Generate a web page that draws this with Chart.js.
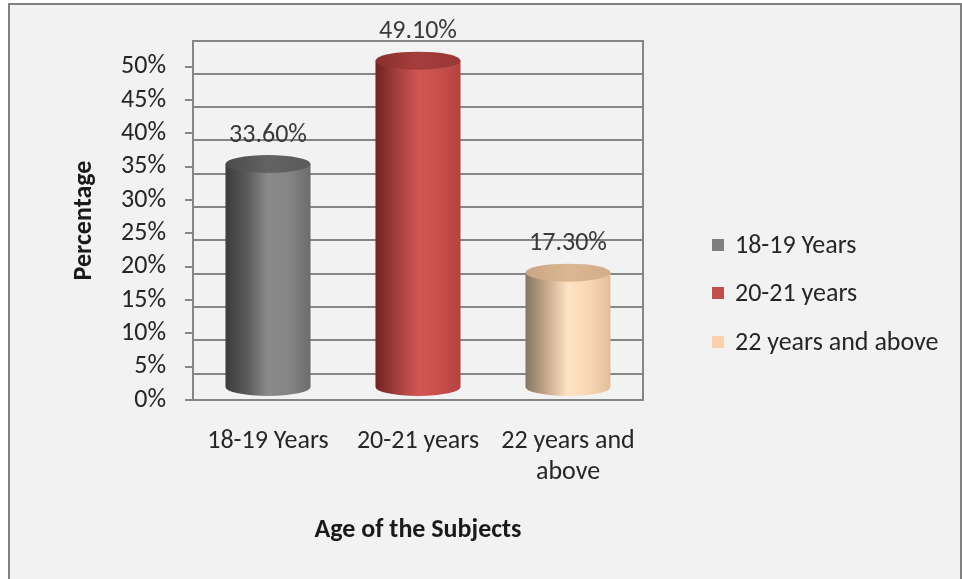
<!DOCTYPE html>
<html>
<head>
<meta charset="utf-8">
<title>Age of the Subjects</title>
<script src="https://cdn.jsdelivr.net/npm/chart.js@4.4.1/dist/chart.umd.min.js"></script>
<style>
    body { margin: 0; background: #fff; }
    .frame {
        position: absolute; left: 8px; top: 3px; width: 950px; height: 590px;
        border: 2px solid #808080; background: #f2f2f2;
    }
    #ageChart { position: absolute; left: 0; top: 0; }
</style>
</head>
<body>
<div class="frame"></div>
<canvas id="ageChart" width="962" height="579"></canvas>
<script>
const ageGroups = [['18-19 Years'], ['20-21 years'], ['22 years and', 'above']];
const legendNames = ['18-19 Years', '20-21 years', '22 years and above'];
const percentages = [33.6, 49.1, 17.3];
const yTicks = [0, 5, 10, 15, 20, 25, 30, 35, 40, 45, 50];

const FONT = 'Carlito, Calibri, Lato, sans-serif';
const LINE = '#868686';

// cylinder shading, left edge -> highlight -> right edge
const bodyShades = [
    ['#3c3c3c', '#5a5a5a', '#8a8a8a', '#858585', '#6c6c6c'],
    ['#6f2221', '#a23f3d', '#d15654', '#c94f4c', '#b24341'],
    ['#857563', '#c7aa8c', '#ffe3c5', '#f8d6b4', '#e2bd99']
];
const topShades = [
    ['#4a4a4a', '#636363', '#5a5a5a'],
    ['#8a2f2d', '#a53e3c', '#983836'],
    ['#c9a482', '#dcb794', '#d2ad8a']
];
const swatches = ['#7f7f7f', '#c0504d', '#f9d1ad'];

function hGradient(c, x0, x1, shades) {
    const g = c.createLinearGradient(x0, 0, x1, 0);
    shades.forEach((s, i) => g.addColorStop(i / (shades.length - 1), s));
    return g;
}

// back wall, gridlines, cylinders, value labels and legend
const cylinders = {
    id: 'cylinders',
    beforeDatasetsDraw(chart) {
        const { ctx, chartArea: a, scales: { y } } = chart;
        ctx.save();
        ctx.strokeStyle = LINE;
        ctx.lineWidth = 2;
        ctx.beginPath();
        yTicks.filter(v => v > 0).forEach(v => {
            const py = Math.round(y.getPixelForValue(v)) + 7;
            ctx.moveTo(a.left, py);
            ctx.lineTo(a.right, py);
        });
        ctx.moveTo(a.left, a.top);
        ctx.lineTo(a.right, a.top);
        ctx.lineTo(a.right, a.bottom);
        ctx.stroke();
        ctx.restore();
    },
    beforeDatasetDraw(chart, args) {
        const { ctx } = chart;
        const ry = 9, lift = 12;
        args.meta.data.forEach((el, i) => {
            const x0 = el.x - el.width / 2, x1 = el.x + el.width / 2, rx = el.width / 2;
            const top = el.y - lift, bot = el.base - lift;
            ctx.save();
            ctx.fillStyle = hGradient(ctx, x0, x1, bodyShades[i]);
            ctx.beginPath();
            ctx.moveTo(x0, top);
            ctx.lineTo(x0, bot);
            ctx.ellipse(el.x, bot, rx, ry, 0, Math.PI, 0, true);
            ctx.lineTo(x1, top);
            ctx.closePath();
            ctx.fill();
            ctx.fillStyle = hGradient(ctx, x0, x1, topShades[i]);
            ctx.beginPath();
            ctx.ellipse(el.x, top, rx, ry, 0, 0, Math.PI * 2);
            ctx.fill();
            ctx.restore();
        });
        return false;
    },
    afterDatasetsDraw(chart) {
        const { ctx, chartArea: a } = chart;
        const meta = chart.getDatasetMeta(0);
        ctx.save();
        ctx.font = '26px ' + FONT;
        ctx.fillStyle = '#3a3a3a';
        ctx.textAlign = 'center';
        ctx.textBaseline = 'middle';
        meta.data.forEach((el, i) => {
            ctx.fillText(percentages[i].toFixed(2) + '%', el.x, el.y - 41);
        });
        // legend
        ctx.textAlign = 'left';
        const rows = [204, 252, 301];
        legendNames.forEach((name, i) => {
            const cy = a.top + rows[i];
            ctx.fillStyle = swatches[i];
            ctx.fillRect(a.right + 69, cy - 6, 12, 12);
            ctx.fillStyle = '#262626';
            ctx.fillText(name, a.right + 92, cy + 1);
        });
        ctx.restore();
    }
};

new Chart(document.getElementById('ageChart'), {
    type: 'bar',
    data: {
        labels: ageGroups,
        datasets: [{
            label: 'Percentage',
            data: percentages,
            backgroundColor: swatches,
            barPercentage: 0.567,
            categoryPercentage: 1
        }]
    },
    plugins: [cylinders],
    options: {
        responsive: false,
        animation: false,
        layout: { padding: { top: 41, right: 319, bottom: 0, left: 0 } },
        plugins: {
            legend: { display: false },
            tooltip: { enabled: false }
        },
        scales: {
            x: {
                grid: { display: false, drawTicks: false },
                border: { display: true, color: LINE, width: 2 },
                ticks: { color: '#262626', padding: 26, font: { family: FONT, size: 26, lineHeight: 1.2 } },
                title: {
                    display: true,
                    text: 'Age of the Subjects',
                    color: '#1a1a1a',
                    font: { family: FONT, size: 26, weight: 'bold' },
                    padding: { top: 0, bottom: 33 }
                },
                afterFit(scale) { scale.height = 179; }
            },
            y: {
                min: 0,
                max: 53.85,
                ticks: {
                    stepSize: 5,
                    padding: 19,
                    color: '#262626',
                    font: { family: FONT, size: 26 },
                    callback: v => v + '%'
                },
                afterBuildTicks(scale) {
                    scale.ticks = yTicks.map(v => ({ value: v }));
                },
                grid: { drawOnChartArea: false, drawTicks: true, tickLength: 8, color: LINE, lineWidth: 2 },
                border: { display: true, color: LINE, width: 2 },
                title: {
                    display: true,
                    text: 'Percentage',
                    color: '#1a1a1a',
                    font: { family: FONT, size: 26, weight: 'bold' },
                    padding: { top: 69, bottom: 0 }
                },
                afterFit(scale) { scale.width = 193; }
            }
        }
    }
});
</script>
</body>
</html>
